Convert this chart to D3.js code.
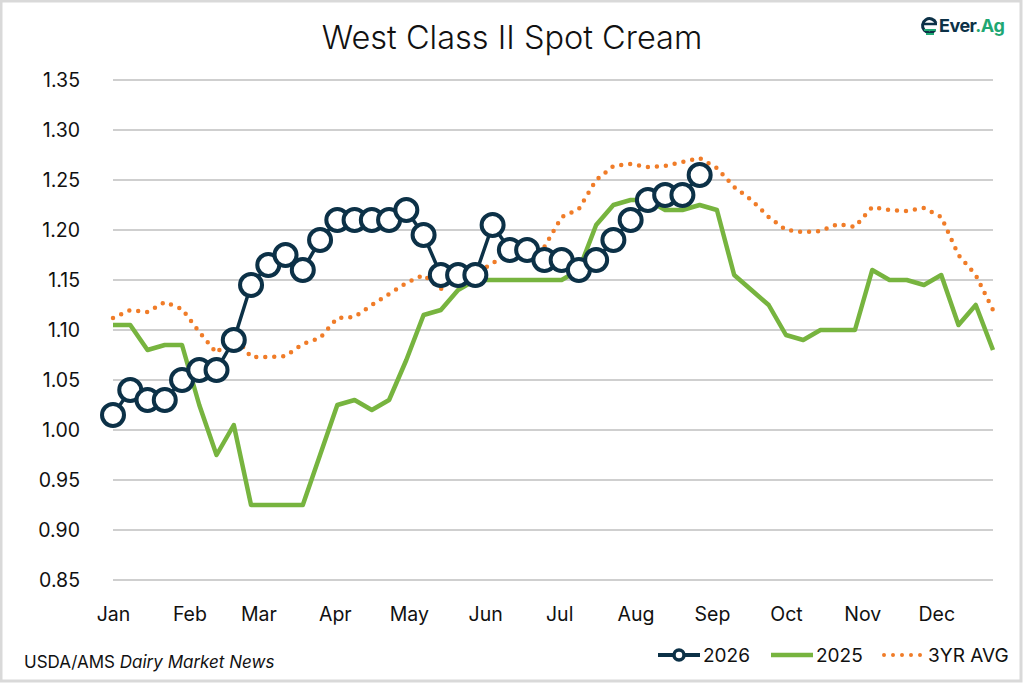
<!DOCTYPE html>
<html>
<head>
<meta charset="utf-8">
<script src="https://cdn.jsdelivr.net/npm/d3@7"></script>
<style>
  body { margin: 0; background: #fff; }
  text { font-family: Inter, "Open Sans", sans-serif; fill: #111; }
</style>
</head>
<body>
<script>
// weekly prices, $/lb
var months = ["Jan","Feb","Mar","Apr","May","Jun","Jul","Aug","Sep","Oct","Nov","Dec"];
var monthStartDays = [0, 31, 59, 90, 120, 151, 181, 212, 243, 273, 304, 334];
var yTicks = [0.85, 0.90, 0.95, 1.00, 1.05, 1.10, 1.15, 1.20, 1.25, 1.30, 1.35];

var series2026 = [1.015, 1.04, 1.03, 1.03, 1.05, 1.06, 1.06, 1.09, 1.145, 1.165,
  1.175, 1.16, 1.19, 1.21, 1.21, 1.21, 1.21, 1.22, 1.195, 1.155,
  1.155, 1.155, 1.205, 1.18, 1.18, 1.17, 1.17, 1.16, 1.17, 1.19,
  1.21, 1.23, 1.235, 1.235, 1.255];

var series2025 = [1.105, 1.105, 1.08, 1.085, 1.085, 1.025, 0.975, 1.005, 0.925, 0.925,
  0.925, 0.925, 0.975, 1.025, 1.03, 1.02, 1.03, 1.07, 1.115, 1.12,
  1.14, 1.15, 1.15, 1.15, 1.15, 1.15, 1.15, 1.16, 1.205, 1.225,
  1.23, 1.23, 1.22, 1.22, 1.225, 1.22, 1.155, 1.14, 1.125, 1.095,
  1.09, 1.10, 1.10, 1.10, 1.16, 1.15, 1.15, 1.145, 1.155, 1.105,
  1.125, 1.08];

var seriesAvg = [1.112, 1.12, 1.118, 1.128, 1.121, 1.098, 1.077, 1.095, 1.073, 1.073,
  1.074, 1.086, 1.092, 1.112, 1.113, 1.125, 1.136, 1.147, 1.155, 1.141,
  1.157, 1.156, 1.167, 1.176, 1.175, 1.183, 1.213, 1.221, 1.25, 1.264,
  1.266, 1.263, 1.264, 1.268, 1.272, 1.262, 1.243, 1.23, 1.213, 1.20,
  1.198, 1.199, 1.206, 1.203, 1.223, 1.22, 1.219, 1.222, 1.213, 1.175,
  1.155, 1.12];

var navy = "#0c3147";
var green = "#77b43f";
var orange = "#f07c28";

var width = 1024, height = 683;

var svg = d3.select("body").append("svg")
    .attr("width", width)
    .attr("height", height);

// frame
svg.append("rect")
    .attr("x", 1).attr("y", 1)
    .attr("width", width - 4).attr("height", height - 3)
    .attr("fill", "#fff")
    .attr("stroke", "#d9d9d9")
    .attr("stroke-width", 3);

var x = d3.scaleLinear().domain([0, 51]).range([113, 993]);
var y = d3.scaleLinear().domain([0.85, 1.35]).range([580, 80]);

// gridlines
svg.append("g")
    .selectAll("line")
    .data(yTicks)
    .enter().append("line")
    .attr("x1", x(0)).attr("x2", x(51))
    .attr("y1", (d) => y(d)).attr("y2", (d) => y(d))
    .attr("stroke", "#cfcfcf")
    .attr("stroke-width", 2);

var leftAxis = d3.axisLeft(y)
    .tickValues(yTicks)
    .tickFormat(d3.format(".2f"))
    .tickSize(0)
    .tickPadding(0);
svg.append("g")
    .attr("class", "left axis")
    .attr("transform", "translate(80,0)")
    .call(leftAxis)
    .call((g) => g.select(".domain").remove())
    .selectAll("text")
    .attr("font-size", "19.5px")
    .attr("font-family", "Inter, sans-serif")
    .attr("fill", "#111");

var bottomAxis = d3.axisBottom(x)
    .tickValues(monthStartDays.map((d) => d / 7))
    .tickFormat((d, i) => months[i])
    .tickSize(0)
    .tickPadding(0);
svg.append("g")
    .attr("class", "bottom axis")
    .attr("transform", "translate(0,607)")
    .call(bottomAxis)
    .call((g) => g.select(".domain").remove())
    .selectAll("text")
    .attr("font-size", "19.5px")
    .attr("font-family", "Inter, sans-serif")
    .attr("fill", "#111");

var line = d3.line()
    .x((d, i) => x(i))
    .y((d) => y(d));

svg.append("path")
    .datum(seriesAvg)
    .attr("d", line)
    .attr("fill", "none")
    .attr("stroke", orange)
    .attr("stroke-width", 4.5)
    .attr("stroke-linecap", "round")
    .attr("stroke-dasharray", "0 9");

svg.append("path")
    .datum(series2025)
    .attr("d", line)
    .attr("fill", "none")
    .attr("stroke", green)
    .attr("stroke-width", 4.5)
    .attr("stroke-linejoin", "round");

svg.append("path")
    .datum(series2026)
    .attr("d", line)
    .attr("fill", "none")
    .attr("stroke", navy)
    .attr("stroke-width", 3.5);

svg.append("g")
    .selectAll("circle")
    .data(series2026)
    .enter().append("circle")
    .attr("cx", (d, i) => x(i))
    .attr("cy", (d) => y(d))
    .attr("r", 11)
    .attr("fill", "#fff")
    .attr("stroke", navy)
    .attr("stroke-width", 4);

// title
svg.append("text")
    .attr("x", 512)
    .attr("y", 49)
    .attr("text-anchor", "middle")
    .attr("font-size", "32.5px")
    .attr("font-weight", 300)
    .text("West Class II Spot Cream");

// logo
var logo = svg.append("g").attr("transform", "translate(923,27)");
logo.append("path").attr("d", "M13,-4 A7,7 0 1 0 12,3")
    .attr("fill", "none").attr("stroke", navy).attr("stroke-width", 3);
logo.append("line").attr("x1", 1).attr("x2", 14).attr("y1", -3).attr("y2", -3)
    .attr("stroke", navy).attr("stroke-width", 2.5);
logo.append("path").attr("d", "M1,3 L13,3 M3,7 L11,7")
    .attr("fill", "none").attr("stroke", "#1fa773").attr("stroke-width", 2);
var logoText = logo.append("text")
    .attr("x", 16).attr("y", 5)
    .attr("font-size", "18px")
    .attr("font-weight", "bold")
    .attr("letter-spacing", "-0.5px");
logoText.append("tspan").attr("fill", navy).text("Ever");
logoText.append("tspan").attr("fill", "#1fa773").text(".Ag");

// source
var src = svg.append("text")
    .attr("x", 24)
    .attr("y", 668)
    .attr("font-size", "17px");
src.append("tspan").text("USDA/AMS ");
src.append("tspan").attr("font-style", "italic").text("Dairy Market News");

// legend
var legend = svg.append("g").attr("transform", "translate(0,655)");
legend.append("line").attr("x1", 658).attr("x2", 700).attr("y1", 0).attr("y2", 0)
    .attr("stroke", navy).attr("stroke-width", 4);
legend.append("circle").attr("cx", 679).attr("cy", 0).attr("r", 5)
    .attr("fill", "#fff").attr("stroke", navy).attr("stroke-width", 3.5);
legend.append("text").attr("x", 703).attr("y", 7).attr("font-size", "19px").text("2026");

legend.append("line").attr("x1", 771).attr("x2", 813).attr("y1", 0).attr("y2", 0)
    .attr("stroke", green).attr("stroke-width", 4.5);
legend.append("text").attr("x", 816).attr("y", 7).attr("font-size", "19px").text("2025");

legend.append("line").attr("x1", 884).attr("x2", 922).attr("y1", 0).attr("y2", 0)
    .attr("stroke", orange).attr("stroke-width", 4)
    .attr("stroke-linecap", "round").attr("stroke-dasharray", "0 9");
legend.append("text").attr("x", 928).attr("y", 7).attr("font-size", "19px").text("3YR AVG");
</script>
</body>
</html>
